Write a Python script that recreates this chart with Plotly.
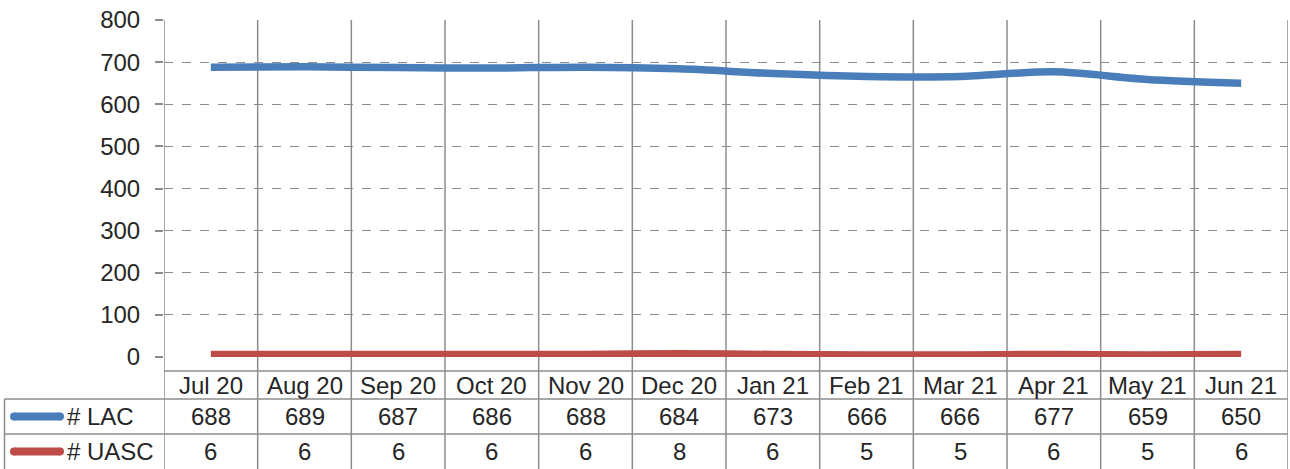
import plotly.graph_objects as go

months = ["Jul 20", "Aug 20", "Sep 20", "Oct 20", "Nov 20", "Dec 20",
          "Jan 21", "Feb 21", "Mar 21", "Apr 21", "May 21", "Jun 21"]
lac = [688, 689, 687, 686, 688, 684, 673, 666, 666, 677, 659, 650]
uasc = [6, 6, 6, 6, 6, 8, 6, 5, 5, 6, 5, 6]
series_names = ["# LAC", "# UASC"]
series_colors = ["#4a7ebb", "#be4b48"]
y_ticks = [0, 100, 200, 300, 400, 500, 600, 700, 800]

W, H = 1290, 469
L, R, T, B = 164, 2, 20, 112
PW = W - L - R
PH = H - T - B
FONT = "Liberation Sans, Arial, sans-serif"
TXT = "#262626"
GRID = "#8c8c8c"


def py(p):  # pixel y -> paper y
    return (H - B - p) / PH


def px(p):  # pixel x -> paper x
    return (p - L) / PW


n = len(months)
xc = [i + 0.5 for i in range(n)]

fig = go.Figure()
for vals, name, col in zip([lac, uasc], series_names, series_colors):
    fig.add_trace(go.Scatter(x=xc, y=vals, mode="lines", name=name,
                             line=dict(color=col, width=7.5, shape="spline", smoothing=0.8),
                             cliponaxis=False, showlegend=False))

shapes = []
# vertical grid / table column lines
for i in range(n + 1):
    shapes.append(dict(type="line", xref="x", yref="paper", x0=i, x1=i,
                       y0=py(475), y1=1, line=dict(color=GRID, width=1.5), layer="below"))
# table horizontal lines
shapes.append(dict(type="line", xref="x", yref="paper", x0=0, x1=n,
                   y0=py(371), y1=py(371), line=dict(color=GRID, width=1.5)))
for yy in [399, 434]:
    shapes.append(dict(type="line", xref="paper", yref="paper", x0=px(4.5), x1=px(L + PW),
                       y0=py(yy), y1=py(yy), line=dict(color=GRID, width=1.5)))
# left border of series rows
shapes.append(dict(type="line", xref="paper", yref="paper", x0=px(4.5), x1=px(4.5),
                   y0=py(475), y1=py(399), line=dict(color=GRID, width=1.5)))

annotations = []
# header row
for i, m in enumerate(months):
    annotations.append(dict(x=xc[i], y=py(385), xref="x", yref="paper", text=m,
                            showarrow=False, font=dict(family=FONT, size=24, color=TXT),
                            xanchor="center", yanchor="middle"))
row_centers = [416.5, 451.5]
for r, (vals, name, col) in enumerate(zip([lac, uasc], series_names, series_colors)):
    yc = row_centers[r]
    for i, v in enumerate(vals):
        annotations.append(dict(x=xc[i], y=py(yc), xref="x", yref="paper", text=str(v),
                                showarrow=False, font=dict(family=FONT, size=24, color=TXT),
                                xanchor="center", yanchor="middle"))
    annotations.append(dict(x=px(65), y=py(yc), xref="paper", yref="paper", text=name,
                            showarrow=False, font=dict(family=FONT, size=24, color=TXT),
                            xanchor="left", yanchor="middle"))
    # legend key: line with rounded ends
    shapes.append(dict(type="line", xref="paper", yref="paper", x0=px(14), x1=px(60),
                       y0=py(yc), y1=py(yc), line=dict(color=col, width=8)))
    for cx in [14, 60]:
        shapes.append(dict(type="circle", xref="paper", yref="paper",
                           xsizemode="pixel", ysizemode="pixel",
                           xanchor=px(cx), yanchor=py(yc),
                           x0=-4, x1=4, y0=-4, y1=4,
                           fillcolor=col, line=dict(width=0)))

fig.update_layout(
    width=W, height=H,
    margin=dict(l=L, r=R, t=T, b=B),
    paper_bgcolor="white", plot_bgcolor="white",
    shapes=shapes, annotations=annotations,
    xaxis=dict(range=[0, n], showgrid=False, zeroline=False, showticklabels=False,
               ticks="", showline=False, fixedrange=True),
    yaxis=dict(range=[0, 800], tickvals=y_ticks, showgrid=True, gridcolor=GRID,
               griddash="dash", gridwidth=1.3, zeroline=False, showline=False,
               ticks="outside", ticklen=8, tickcolor=GRID, tickwidth=1.5,
               tickfont=dict(family=FONT, size=24, color=TXT), ticklabelstandoff=10),
)

fig.write_html("out.html", config={"displayModeBar": False},
               post_script="document.body.style.margin='0';document.body.style.overflow='hidden';")
